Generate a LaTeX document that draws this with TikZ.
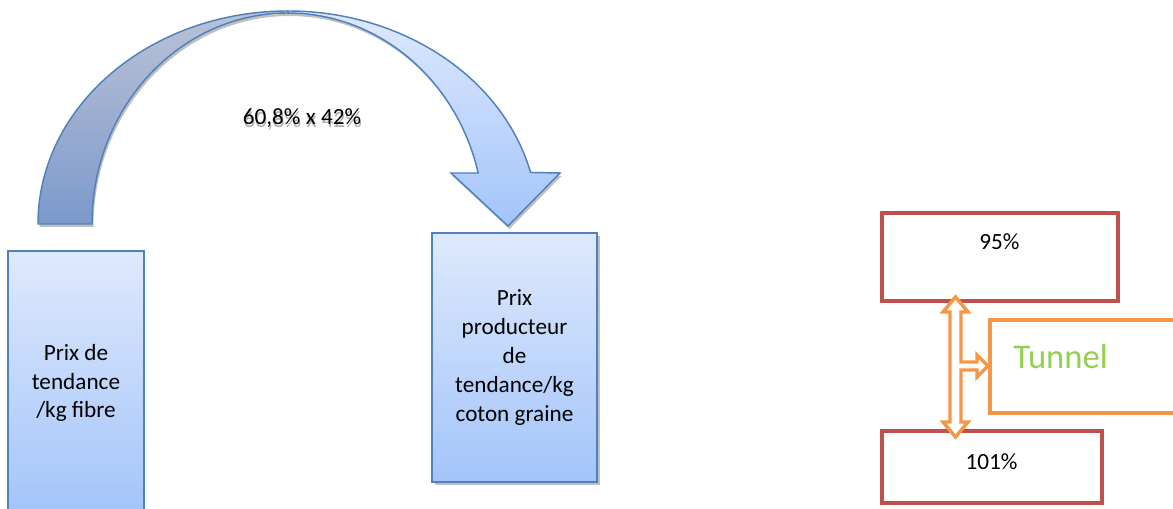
\documentclass[tikz,border=0pt]{standalone}
\usepackage{fontspec}
\setmainfont{Carlito}

\definecolor{blueline}{RGB}{79,129,189}
\definecolor{boxtop}{RGB}{222,233,252}
\definecolor{boxbottom}{RGB}{163,196,250}
\definecolor{backtop}{RGB}{186,194,213}
\definecolor{backbottom}{RGB}{124,153,204}
\definecolor{redline}{RGB}{192,80,77}
\definecolor{orangeline}{RGB}{247,150,70}
\definecolor{tunnelgreen}{RGB}{146,208,80}
\definecolor{shadowgray}{RGB}{150,150,150}
\definecolor{textshadow}{RGB}{175,175,175}

% the two halves of the curved arrow
\newcommand\backband{(38,285) arc[start angle=180,end angle=90,x radius=250,y radius=213]
  -- (288,496) arc[start angle=90,end angle=180,x radius=196,y radius=211] -- cycle}
\newcommand\frontband{(288,498) arc[start angle=90,end angle=14,x radius=250,y radius=213]
  -- (560,336) -- (508,283) -- (451,336) -- (478.2,336)
  arc[start angle=14,end angle=90,x radius=196,y radius=211] -- cycle}
% text with a soft grey copy set just below it
\newcommand\shadowtext[1]{\makebox[0pt][l]{\hspace{0.6pt}\raisebox{-2.2pt}{\color{textshadow}#1}}#1}

\tikzset{
  body/.style={font=\fontsize{17.4}{21.6}\selectfont, align=center},
  bluebox/.style={draw=blueline, line width=1.1pt, top color=boxtop, bottom color=boxbottom,
    inner sep=0pt, body},
  redbox/.style={draw=redline, line width=3.2pt, fill=white, inner sep=0pt},
  tunnelbox/.style={draw=orangeline, line width=3.2pt, fill=white, inner sep=0pt},
  dropshadow/.style={fill=shadowgray, opacity=0.6},
}

\begin{document}
\begin{tikzpicture}[x=0.75pt,y=0.75pt]
\useasboundingbox (0,0) rectangle (1173,509);
\clip (0,0) rectangle (1173,509);

% price boxes
\fill[dropshadow] (435,24) rectangle (600,273);
\node[bluebox, minimum width=136*0.75pt, minimum height=264*0.75pt] (fibre) at (76,126)
  {Prix de\\tendance\\/kg fibre};
\node[bluebox, minimum width=165*0.75pt, minimum height=249*0.75pt] (graine) at (514.5,151.5)
  {Prix\\producteur\\de\\tendance/kg\\coton graine};

% curved arrow from one price to the other
\fill[dropshadow, shift={(1.5,-3)}] \backband;
\fill[dropshadow, shift={(1.5,-3)}] \frontband;
\path[draw=blueline, line width=1.1pt, top color=backtop, bottom color=backbottom] \backband;
\path[draw=blueline, line width=1.1pt, top color=boxtop, bottom color=boxbottom] \frontband;

\node[body] (ratio) at (302,389) {\shadowtext{60,8\% x 42\%}};

% tunnel bounds
\node[redbox, minimum width=236*0.75pt, minimum height=88*0.75pt] (haut) at (1000,252) {};
\node[body] (thaut) at (999.5,267) {95\%};
\node[redbox, minimum width=220*0.75pt, minimum height=72*0.75pt] (bas) at (992,42) {};
\node[body] (tbas) at (991.5,47) {101\%};
\node[tunnelbox, minimum width=190*0.75pt, minimum height=93*0.75pt] (tunnel) at (1085,142.5) {};
\node[font=\fontsize{26}{30}\selectfont, text=tunnelgreen, anchor=west, inner sep=0pt]
  (ttunnel) at (1013,152) {Tunnel};

% up-down arrow with a branch into the tunnel box
\draw[orangeline, line width=2.6pt, fill=white, line join=miter]
  (955.5,212) -- (968,197) -- (961,197) -- (961,147) -- (977,147) -- (977,154)
  -- (988,143) -- (977,132) -- (977,139) -- (961,139) -- (961,87) -- (968,87)
  -- (955.5,72) -- (943,87) -- (950,87) -- (950,197) -- (943,197) -- cycle;
\end{tikzpicture}
\end{document}
